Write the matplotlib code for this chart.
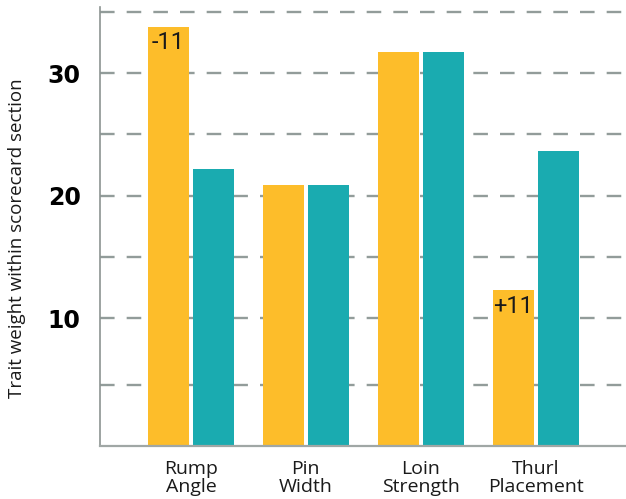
import numpy as np
import matplotlib
matplotlib.use("Agg")
import matplotlib.pyplot as plt
from matplotlib import font_manager

plt.rcParams['font.family'] = ['Open Sans', 'DejaVu Sans']
plt.rcParams['lines.scale_dashes'] = False

# data
traits = ["Rump\nAngle", "Pin\nWidth", "Loin\nStrength", "Thurl\nPlacement"]
weight_old = [33.8, 20.9, 31.7, 12.3]
weight_new = [22.2, 20.9, 31.7, 23.6]
change_labels = ["-11", "", "", "+11"]
grid_values = [4.5, 10, 15, 20, 25, 30, 35]
ytick_values = [10, 20, 30]

orange = "#FDBD2A"
teal = "#1AABB0"
grid_col = "#929c9a"

installed = {f.name for f in font_manager.fontManager.ttflist}
narrow = "Liberation Sans Narrow" if "Liberation Sans Narrow" in installed else "Roboto"

fig = plt.figure(figsize=(6.26, 4.99), dpi=100)
ax = fig.add_axes([100 / 626, 53 / 499, 526 / 626, 439 / 499])

x = np.arange(len(traits))
w = 0.357
off = 0.196
y0 = -0.45

for g in grid_values:
    ax.axhline(g, color=grid_col, lw=1.7, dashes=(10.5, 8.7), zorder=0)

bars_old = ax.bar(x - off, np.array(weight_old) - y0, w, bottom=y0, color=orange, zorder=2)
ax.bar(x + off, np.array(weight_new) - y0, w, bottom=y0, color=teal, zorder=2)

for b, lab, v in zip(bars_old, change_labels, weight_old):
    if lab:
        ax.annotate(lab, (b.get_x() + b.get_width() / 2, v),
                    xytext=(0, -3.5), textcoords="offset points",
                    ha="center", va="top", fontsize=17,
                    family=[narrow, 'DejaVu Sans'], color="#1a1a1a")

ax.set_xlim(-0.791, 3.787)
ax.set_ylim(y0, 35.4)
ax.set_xticks(x)
ax.set_xticklabels(traits, fontsize=14, linespacing=1.0, color="#1a1a1a")
ax.set_yticks(ytick_values)
ax.set_yticklabels([str(v) for v in ytick_values], fontsize=17, fontweight="bold",
                   family=['DejaVu Sans'])
ax.tick_params(axis="both", length=0)
ax.tick_params(axis="y", pad=14)
ax.tick_params(axis="x", pad=10)

for s in ["top", "right"]:
    ax.spines[s].set_visible(False)
ax.spines["left"].set_color("#8c9491")
ax.spines["left"].set_linewidth(1.2)
ax.spines["bottom"].set_color("#a0a7a5")
ax.spines["bottom"].set_linewidth(1.6)
ax.spines["bottom"].set_zorder(3)

fig.text(17 / 626, 0.522, "Trait weight within scorecard section", rotation=90,
         ha="center", va="center", fontsize=13.5, color="#1a1a1a")

fig.savefig("out.png", dpi=100)
